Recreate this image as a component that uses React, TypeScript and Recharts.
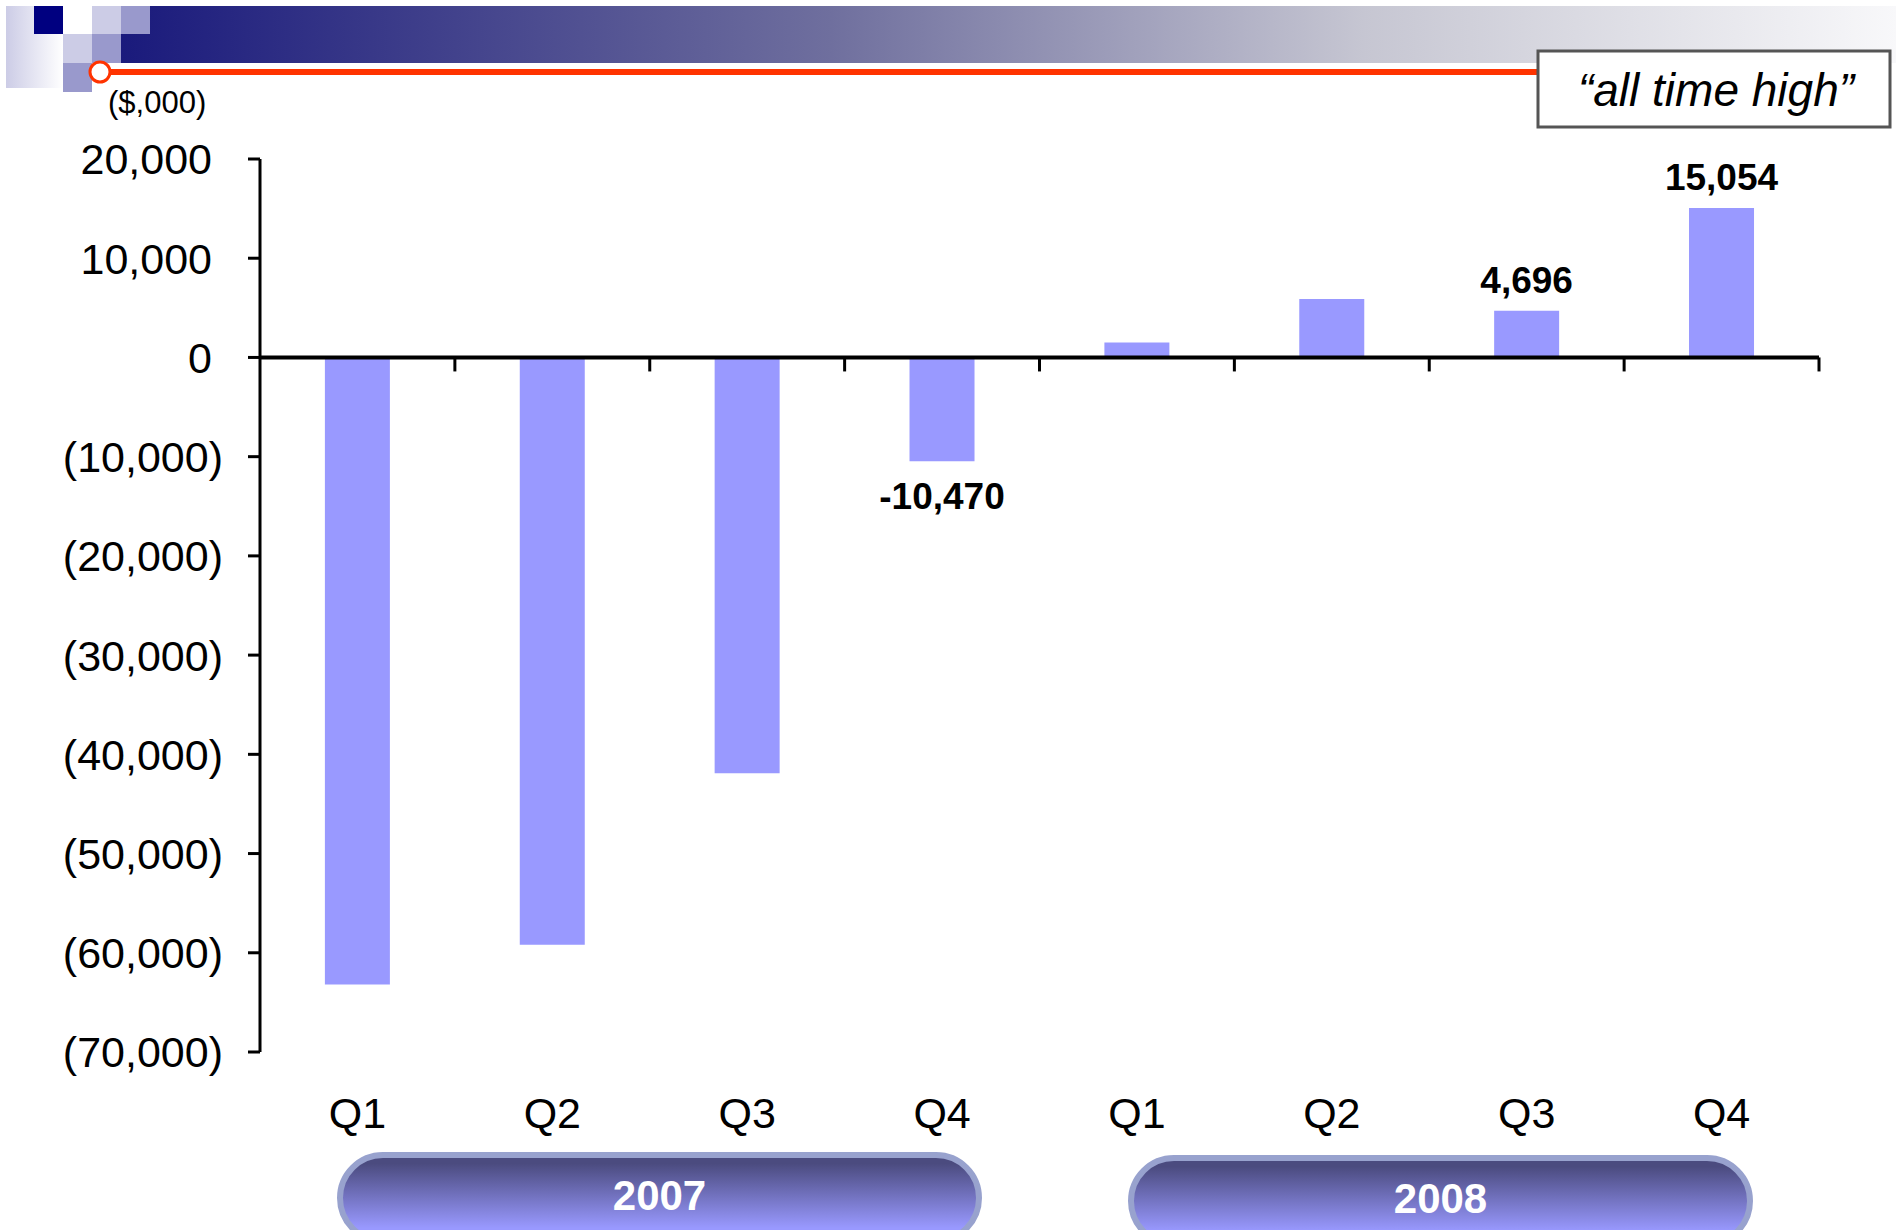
import { BarChart, Bar, XAxis, YAxis, ReferenceLine, LabelList } from 'recharts';

// quarterly results, $ thousands
const quarters = ['Q1', 'Q2', 'Q3', 'Q4', 'Q1', 'Q2', 'Q3', 'Q4'];
const years = ['2007', '2007', '2007', '2007', '2008', '2008', '2008', '2008'];
const netIncome = [-63200, -59200, -41900, -10470, 1500, 5900, 4696, 15054];
const showValue = [false, false, false, true, false, false, true, true];
const yTicks = [-70000, -60000, -50000, -40000, -30000, -20000, -10000, 0, 10000, 20000];
const yearGroups = ['2007', '2008'];

const data = quarters.map((q, i) => ({
  key: `${years[i]}-${q}`,
  value: netIncome[i],
  label: showValue[i] ? netIncome[i] : null,
}));

const FONT = '"Liberation Sans", Arial, sans-serif';

const fmt = (v: number) => v.toLocaleString('en-US');

const YTick = ({ x, y, payload }: any) => {
  const v = payload.value as number;
  const text = v < 0 ? `(${fmt(Math.abs(v))})` : fmt(v);
  return (
    <text x={v < 0 ? x : x - 11} y={y} dy="0.36em" textAnchor="end" fontFamily={FONT} fontSize={43} fill="#000">
      {text}
    </text>
  );
};

const XTick = ({ x, y, payload }: any) => (
  <text x={x} y={y + 76} textAnchor="middle" fontFamily={FONT} fontSize={43} fill="#000">
    {quarters[payload.index]}
  </text>
);

// zero line with tick marks between the categories
const ZeroAxis = (props: any) => {
  const { x1, x2, y1 } = props;
  if (x1 == null) return null;
  const step = (x2 - x1) / quarters.length;
  return (
    <g>
      <line x1={x1} x2={x2} y1={y1} y2={y1} stroke="#000" strokeWidth={4} />
      {quarters.map((_, i) => (
        <line key={i} x1={x1 + step * (i + 1)} x2={x1 + step * (i + 1)} y1={y1} y2={y1 + 14} stroke="#000" strokeWidth={3} />
      ))}
    </g>
  );
};

const ValueLabel = (props: any) => {
  const { x, y, width, height, value } = props;
  if (value == null) return null;
  const top = Math.min(y, y + height);
  const bottom = Math.max(y, y + height);
  const ty = value < 0 ? bottom + 48 : top - 18;
  return (
    <text x={x + width / 2} y={ty} textAnchor="middle" fontFamily={FONT} fontWeight="bold" fontSize={37} fill="#000">
      {fmt(value)}
    </text>
  );
};

const Header = () => (
  <svg width={1896} height={1230} style={{ position: 'absolute', left: 0, top: 0 }}>
    <defs>
      <linearGradient id="band" x1="0" x2="1" y1="0" y2="0">
        <stop offset="0" stopColor="#1A1A7C" />
        <stop offset="0.4" stopColor="#6F6F9E" />
        <stop offset="0.7" stopColor="#C6C6D2" />
        <stop offset="1" stopColor="#F8F8FA" />
      </linearGradient>
      <linearGradient id="fade" x1="0" x2="1" y1="0" y2="0">
        <stop offset="0" stopColor="#CCCCE6" />
        <stop offset="1" stopColor="#FFFFFF" />
      </linearGradient>
      <linearGradient id="pill" x1="0" x2="0" y1="0" y2="1">
        <stop offset="0.1" stopColor="#4B4B7F" />
        <stop offset="0.85" stopColor="#9999FF" />
      </linearGradient>
    </defs>
    <rect x={121} y={6} width={1775} height={57} fill="url(#band)" />
    <rect x={6} y={6} width={57} height={82} fill="url(#fade)" />
    <rect x={34} y={6} width={29} height={28} fill="#000080" />
    <rect x={63} y={6} width={29} height={28} fill="#FFFFFF" />
    <rect x={92} y={6} width={29} height={28} fill="#CCCCE6" />
    <rect x={121} y={6} width={29} height={28} fill="#9999CC" />
    <rect x={63} y={34} width={29} height={29} fill="#CCCCE6" />
    <rect x={92} y={34} width={29} height={29} fill="#9999CC" />
    <rect x={63} y={63} width={29} height={29} fill="#9999CC" />
    <line x1={100} x2={1537} y1={72} y2={72} stroke="#FF3300" strokeWidth={6} />
    <circle cx={100} cy={72} r={10} fill="#FFFFFF" stroke="#FF3300" strokeWidth={3} />
    <text x={108} y={113} fontFamily={FONT} fontSize={31} fill="#000">($,000)</text>
    <rect x={1538} y={51} width={352} height={76} fill="#FFFFFF" stroke="#555555" strokeWidth={3} />
    <text x={1716} y={106} textAnchor="middle" fontFamily={FONT} fontStyle="italic" fontSize={46} fill="#000">
      “all time high”
    </text>
    {yearGroups.map((yr, i) => {
      const x = i === 0 ? 340 : 1131;
      const w = i === 0 ? 639 : 619;
      const top = i === 0 ? 1155 : 1158;
      return (
        <g key={yr}>
          <rect x={x} y={top} width={w} height={86} rx={43} fill="url(#pill)" stroke="#98A2CE" strokeWidth={6} />
          <text x={x + w / 2} y={top + 55} textAnchor="middle" fontFamily={FONT} fontWeight="bold" fontSize={42} fill="#FFFFFF">
            {yr}
          </text>
        </g>
      );
    })}
  </svg>
);

export default function App() {
  return (
    <div style={{ position: 'absolute', left: 0, top: 0, width: 1896, height: 1230, overflow: 'hidden', background: '#fff' }}>
      <Header />
      <div style={{ position: 'absolute', left: 0, top: 0 }}>
        <BarChart width={1896} height={1230} data={data} margin={{ top: 159, right: 77, bottom: 98, left: 0 }} barCategoryGap="33.3%">
          <XAxis dataKey="key" height={80} axisLine={false} tickLine={false} tickSize={0} tickMargin={0} tick={<XTick />} interval={0} />
          <YAxis
            width={260}
            domain={[-70000, 20000]}
            ticks={yTicks}
            interval={0}
            tickSize={12}
            tickMargin={25}
            axisLine={{ stroke: '#000', strokeWidth: 3 }}
            tickLine={{ stroke: '#000', strokeWidth: 3 }}
            tick={<YTick />}
          />
          <Bar dataKey="value" fill="#9999FF" isAnimationActive={false}>
            <LabelList dataKey="label" content={ValueLabel} />
          </Bar>
          <ReferenceLine y={0} shape={ZeroAxis} />
        </BarChart>
      </div>
    </div>
  );
}
